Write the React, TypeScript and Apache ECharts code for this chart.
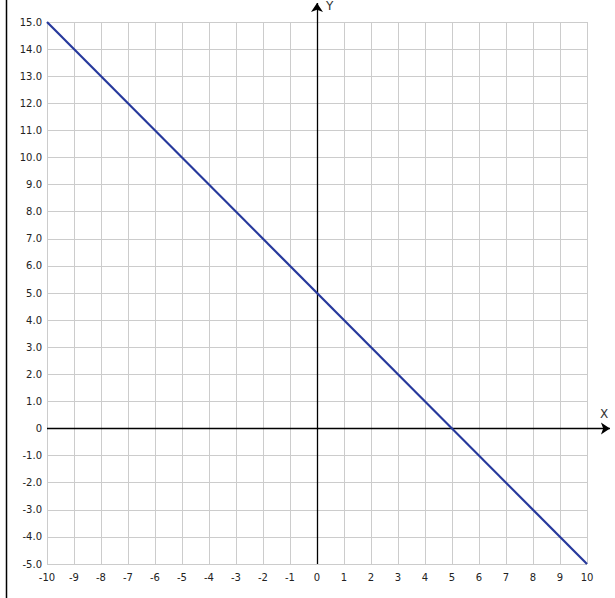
import React, { useEffect, useRef } from "react";
import * as echarts from "echarts";

// y = 5 - x plotted over x in [-10, 10]
const lineX = [-10, 10];
const lineY = [15, -5];

const xRange = [-10, 10];
const yRange = [-5, 15];

// Central axes, drawn through the origin and running slightly past the grid
const xAxisEnds = [[-10, 0], [10.85, 0]];
const yAxisEnds = [[0, -5], [0, 15.7]];

const LABEL_FONT = "DejaVu Sans";

export default function App() {
  const ref = useRef<HTMLDivElement>(null);

  useEffect(() => {
    if (!ref.current) return;
    const chart = echarts.init(ref.current, undefined, { renderer: "svg" });

    const linePoints = lineX.map((x, i) => [x, lineY[i]]);

    chart.setOption({
      animation: false,
      backgroundColor: "#ffffff",
      grid: { left: 47, top: 22, width: 540, height: 542, containLabel: false },
      xAxis: {
        type: "value",
        min: xRange[0],
        max: xRange[1],
        interval: 1,
        axisLine: { show: false },
        axisTick: { show: false },
        axisLabel: {
          margin: 8,
          fontFamily: LABEL_FONT,
          fontSize: 10,
          color: "#222",
          formatter: (v: number) => String(v),
        },
        splitLine: { show: true, lineStyle: { color: "#cccccc", width: 1 } },
      },
      yAxis: {
        type: "value",
        min: yRange[0],
        max: yRange[1],
        interval: 1,
        axisLine: { show: false },
        axisTick: { show: false },
        axisLabel: {
          margin: 5,
          fontFamily: LABEL_FONT,
          fontSize: 10,
          color: "#222",
          formatter: (v: number) => (v === 0 ? "0" : v.toFixed(1)),
        },
        splitLine: { show: true, lineStyle: { color: "#cccccc", width: 1 } },
      },
      series: [
        {
          type: "lines",
          coordinateSystem: "cartesian2d",
          clip: false,
          silent: true,
          symbol: ["none", "arrow"],
          symbolSize: [0, 9],
          lineStyle: { color: "#000000", width: 1.3, opacity: 1 },
          data: [{ coords: xAxisEnds }, { coords: yAxisEnds }],
          z: 3,
        },
        {
          type: "line",
          data: linePoints,
          showSymbol: false,
          symbol: "none",
          lineStyle: { color: "#27399c", width: 2.2 },
          z: 4,
        },
      ],
      graphic: [
        {
          type: "line",
          shape: { x1: 6.5, y1: 0, x2: 6.5, y2: 598 },
          style: { stroke: "#000000", lineWidth: 1.5 },
        },
        {
          type: "text",
          left: 600,
          top: 408,
          style: { text: "X", font: `12px ${LABEL_FONT}`, fill: "#333" },
        },
        {
          type: "text",
          left: 326,
          top: 0,
          style: { text: "Y", font: `12px ${LABEL_FONT}`, fill: "#333" },
        },
      ],
    });

    return () => chart.dispose();
  }, []);

  return (
    <div
      ref={ref}
      style={{ position: "fixed", left: 0, top: 0, width: 615, height: 598 }}
    />
  );
}
